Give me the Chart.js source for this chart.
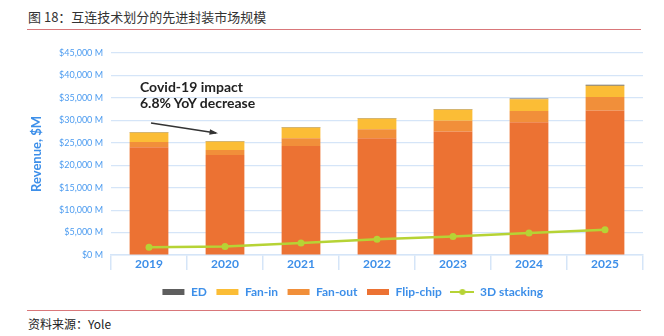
<!DOCTYPE html>
<html>
<head>
<meta charset="utf-8">
<script src="https://cdn.jsdelivr.net/npm/chart.js@4"></script>
<style>
  body { margin: 0; width: 664px; height: 336px; background: #fff; position: relative; overflow: hidden; font-family: "Noto Sans CJK SC", sans-serif; }
  .title { position: absolute; left: 28px; top: 7px; font-size: 13px; color: #333; }
  .rule { position: absolute; left: 27px; width: 614px; height: 1px; background: #d9777a; }
  .source { position: absolute; left: 28px; top: 315px; font-size: 12px; color: #222; }
  .note { position: absolute; left: 140px; top: 79px; font: bold 14px Lato, sans-serif; color: #222; line-height: 16px; }
  .wrap { position: absolute; left: 0; top: 32px; width: 664px; height: 276px; }
</style>
</head>
<body>
<div class="title">图 18：互连技术划分的先进封装市场规模</div>
<div class="rule" style="top:29px"></div>
<div class="wrap"><canvas class="pkg-chart"></canvas></div>
<div class="note">Covid-19 impact<br>6.8% YoY decrease</div>
<div class="rule" style="top:310px"></div>
<div class="source">资料来源：Yole</div>
<script>
const years = ["2019", "2020", "2021", "2022", "2023", "2024", "2025"];
// $M
const flipChip = [24000, 22300, 24300, 26000, 27500, 29600, 32200];
const fanOut = [1200, 1100, 1700, 2000, 2400, 2500, 3000];
const fanIn = [2100, 1900, 2400, 2400, 2500, 2600, 2500];
const ed = [100, 100, 100, 100, 100, 150, 250];
const stacking3d = [1700, 1900, 2650, 3500, 4100, 4900, 5650];

const blue = "#3d8fe9";
const grid = "#d5e5f8";

function legendSwatch(color, line) {
  const c = document.createElement("canvas");
  c.width = 24;
  c.height = 8;
  const g = c.getContext("2d");
  if (line) {
    g.strokeStyle = color;
    g.lineWidth = 2;
    g.beginPath();
    g.moveTo(0, 4);
    g.lineTo(24, 4);
    g.stroke();
    g.fillStyle = color;
    g.beginPath();
    g.arc(12, 4, 3, 0, Math.PI * 2);
    g.fill();
  } else {
    g.fillStyle = color;
    g.fillRect(1, 1, 22, 6);
  }
  return c;
}

// arrow pointing at the 2020 bar
const arrowPlugin = {
  id: "covidArrow",
  afterDatasetsDraw(chart) {
    const { ctx, scales } = chart;
    const x0 = scales.x.getPixelForValue(0) + 2;
    const y0 = scales.y.getPixelForValue(29400);
    const x1 = scales.x.getPixelForValue(1) - 9;
    const y1 = scales.y.getPixelForValue(27200);
    const a = Math.atan2(y1 - y0, x1 - x0);
    ctx.save();
    ctx.strokeStyle = "#333";
    ctx.fillStyle = "#333";
    ctx.lineWidth = 1.5;
    ctx.beginPath();
    ctx.moveTo(x0, y0);
    ctx.lineTo(x1, y1);
    ctx.stroke();
    ctx.beginPath();
    ctx.moveTo(x1 + 2 * Math.cos(a), y1 + 2 * Math.sin(a));
    ctx.lineTo(x1 - 7 * Math.cos(a - 0.4), y1 - 7 * Math.sin(a - 0.4));
    ctx.lineTo(x1 - 7 * Math.cos(a + 0.4), y1 - 7 * Math.sin(a + 0.4));
    ctx.closePath();
    ctx.fill();
    ctx.restore();
  },
};

// legend sits a bit right of centre in the original
const legendShift = {
  id: "legendShift",
  afterLayout(chart) {
    chart.legend.left += 19;
    chart.legend.right += 19;
  },
};

const barStyle = { categoryPercentage: 1, barPercentage: 0.51, order: 1, stack: "pkg" };

const ctx = document.querySelector(".pkg-chart").getContext("2d");
const config = {
  data: {
    labels: years,
    datasets: [
      { type: "bar", label: "Flip-chip", data: flipChip, backgroundColor: "#ec7233", ...barStyle },
      { type: "bar", label: "Fan-out", data: fanOut, backgroundColor: "#f18f3a", ...barStyle },
      { type: "bar", label: "Fan-in", data: fanIn, backgroundColor: "#fbbd36", ...barStyle },
      { type: "bar", label: "ED", data: ed, backgroundColor: "#5e5e5e", ...barStyle },
      {
        type: "line",
        label: "3D stacking",
        data: stacking3d,
        borderColor: "#b6d335",
        backgroundColor: "#b6d335",
        borderWidth: 2.5,
        pointRadius: 3.5,
        pointBorderWidth: 0,
        order: 0,
        stack: "line",
      },
    ],
  },
  options: {
    responsive: true,
    maintainAspectRatio: false,
    animation: false,
    layout: { padding: { top: 21, right: 21, left: 24, bottom: 0 } },
    scales: {
      x: {
        stacked: true,
        offset: true,
        grid: { offset: true, drawOnChartArea: false, color: grid, lineWidth: 1.5, tickLength: 15 },
        border: { color: grid, width: 1.5 },
        ticks: { color: blue, padding: -13, font: { family: "Lato", size: 12, weight: "bold" } },
        afterFit: (scale) => {
          scale.height = 22;
        },
      },
      y: {
        stacked: true,
        min: 0,
        max: 45000,
        grid: { color: grid, lineWidth: 1.2, drawTicks: false },
        border: { display: false },
        ticks: {
          stepSize: 5000,
          padding: 8,
          color: "#4d9cf0",
          font: { family: "Lato", size: 9 },
          callback: (v) => "$" + v.toLocaleString("en-US") + " M",
        },
        title: {
          display: true,
          text: "Revenue, $M",
          color: blue,
          padding: { top: 5, bottom: 0 },
          font: { family: "Lato", size: 13, weight: "bold" },
        },
        afterFit: (scale) => {
          scale.width = 87;
        },
      },
    },
    plugins: {
      legend: {
        position: "bottom",
        labels: {
          usePointStyle: true,
          pointStyleWidth: 23,
          padding: 9,
          color: blue,
          font: { family: "Lato", size: 12, weight: "bold" },
          generateLabels: () =>
            [
              ["ED", "#5e5e5e", false],
              ["Fan-in", "#fbbd36", false],
              ["Fan-out", "#f18f3a", false],
              ["Flip-chip", "#ec7233", false],
              ["3D stacking", "#b6d335", true],
            ].map(([text, color, line]) => ({
              text,
              pointStyle: legendSwatch(color, line),
              fontColor: blue,
              lineWidth: 0,
              hidden: false,
            })),
        },
      },
      tooltip: { enabled: false },
    },
  },
  plugins: [arrowPlugin, legendShift],
};
const chartRender = new Chart(ctx, config);
</script>
</body>
</html>
